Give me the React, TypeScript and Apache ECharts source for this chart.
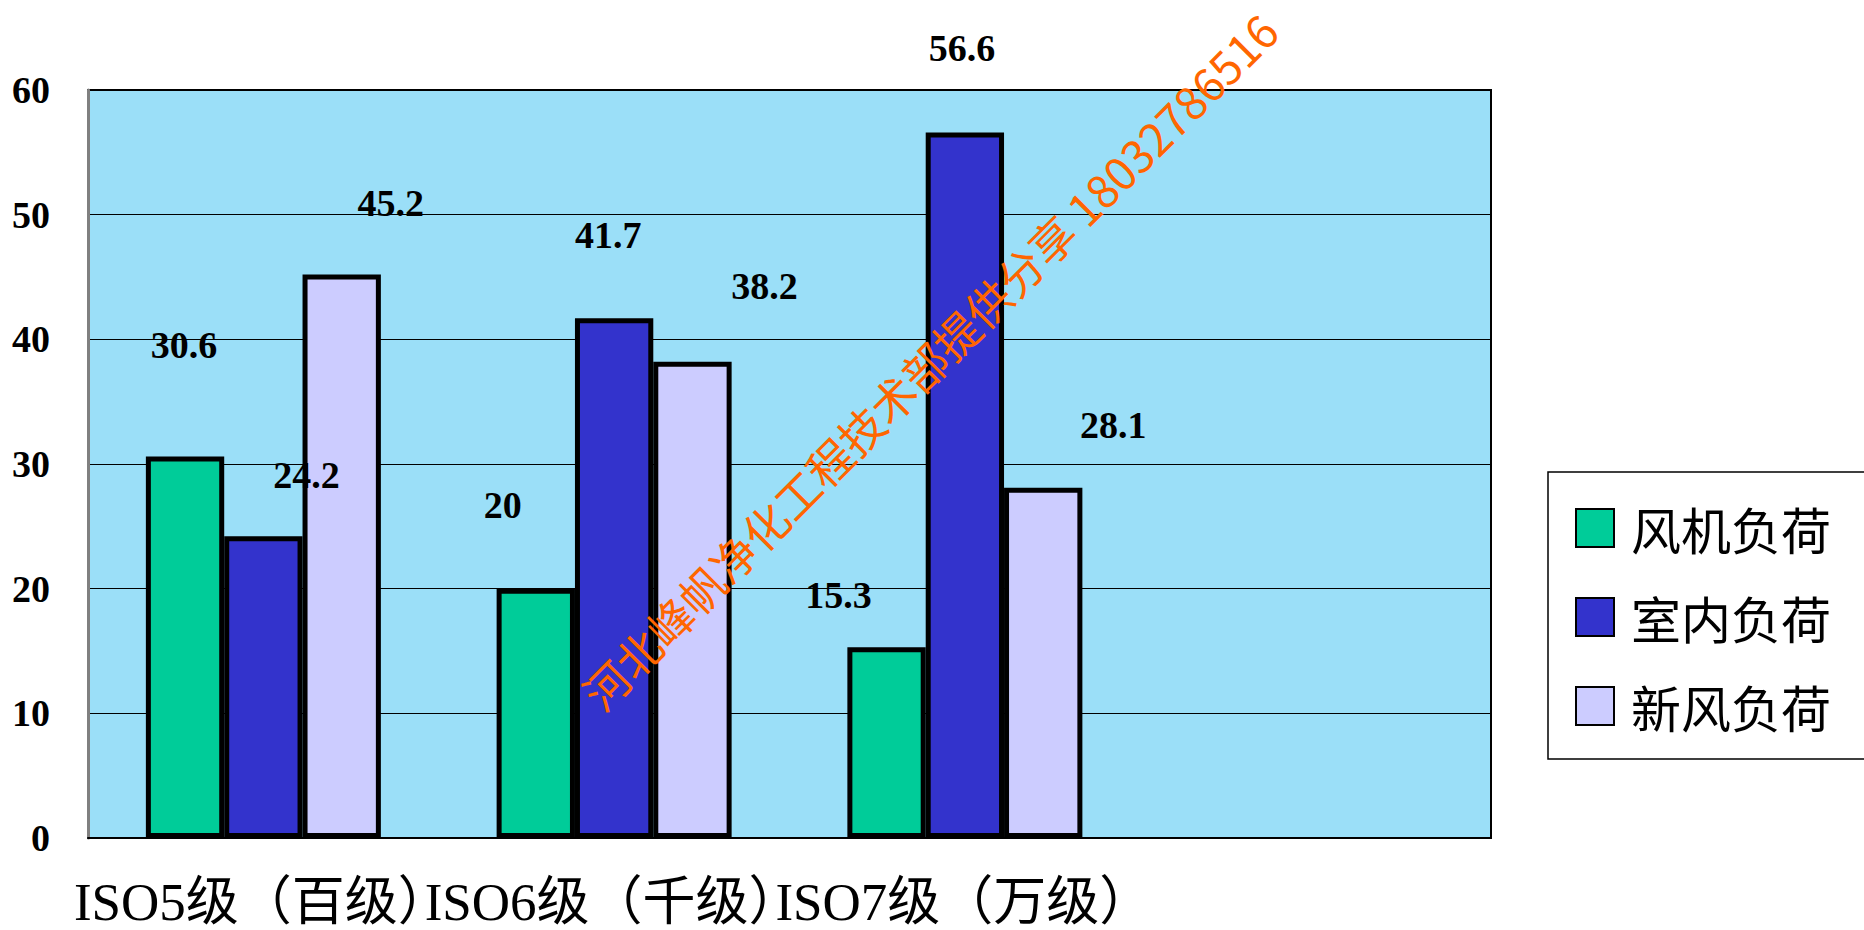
import React, { useEffect, useRef } from "react";
import * as echarts from "echarts";

const categories = ["ISO5级（百级）", "ISO6级（千级）", "ISO7级（万级）", ""];
const seriesNames = ["风机负荷", "室内负荷", "新风负荷"];
const fanLoad = [30.6, 20, 15.3, null];
const roomLoad = [24.2, 41.7, 56.6, null];
const freshLoad = [45.2, 38.2, 28.1, null];
const yTicks = { min: 0, max: 60, interval: 10 };
const watermarkText = "河北峰帆净化工程技术部提供分享 18032786516";

// label offsets (styling, relative to bar tops)
const labelOffsets = [
  [[-1, -112], [-33, -84], [-48, -52]],
  [[43, -61], [-6, -83], [-3, -84]],
  [[49, -72], [72, -76], [70, -63]],
];

const colors = ["#00CC99", "#3333CC", "#CCCCFF"];
const serifFont = '"Liberation Serif", "Times New Roman", "Noto Sans CJK SC", serif';
const cjkFont = '"Noto Sans CJK SC", sans-serif';

export default function App() {
  const ref = useRef<HTMLDivElement>(null);
  useEffect(() => {
    if (!ref.current) return;
    const chart = echarts.init(ref.current, null, { renderer: "svg" });
    const values = [fanLoad, roomLoad, freshLoad];
    const series = values.map((arr, si) => ({
      name: seriesNames[si],
      type: "bar",
      barGap: "0%",
      barCategoryGap: "33%",
      itemStyle: { color: colors[si], borderColor: "#000", borderWidth: 5 },
      data: arr.map((v, ci) =>
        v === null
          ? null
          : {
              value: v,
              label: {
                show: true,
                position: "top",
                distance: 0,
                verticalAlign: "middle",
                align: "center",
                offset: labelOffsets[si][ci],
                formatter: "{c}",
                color: "#000",
                fontSize: 38,
                fontWeight: "bold",
                fontFamily: serifFont,
              },
            }
      ),
    }));
    chart.setOption({
      animation: false,
      backgroundColor: "#fff",
      grid: {
        left: 88,
        right: 373,
        top: 90,
        bottom: 92,
        show: true,
        backgroundColor: "#9BDFF8",
        borderColor: "#000",
        borderWidth: 2,
      },
      legend: {
        orient: "vertical",
        left: 1548,
        top: 472,
        padding: [31, 80, 28, 27],
        itemGap: 39,
        itemWidth: 38,
        itemHeight: 38,
        borderColor: "#000",
        borderWidth: 1.5,
        icon: "rect",
        data: seriesNames,
        textStyle: {
          color: "#000",
          fontSize: 50,
          fontFamily: cjkFont,
          padding: [0, 0, 0, 12],
        },
      },
      xAxis: {
        type: "category",
        data: categories,
        axisLine: { show: true, lineStyle: { color: "#000", width: 2 } },
        axisTick: { show: false },
        axisLabel: {
          interval: 0,
          margin: 37,
          color: "#000",
          fontSize: 53,
          fontFamily: serifFont,
          padding: [0, 2, 0, 0],
        },
      },
      yAxis: {
        type: "value",
        min: yTicks.min,
        max: yTicks.max,
        interval: yTicks.interval,
        axisLine: { show: true, lineStyle: { color: "#808080", width: 3 } },
        axisTick: { show: false },
        splitLine: { show: true, lineStyle: { color: "#000", width: 1 } },
        axisLabel: {
          margin: 38,
          color: "#000",
          fontSize: 38,
          fontWeight: "bold",
          fontFamily: serifFont,
          padding: [0, 0, 20, 0],
        },
      },
      series,
      graphic: [
        {
          type: "text",
          x: 929,
          y: 361,
          rotation: Math.PI / 4,
          z: 100,
          style: {
            text: watermarkText,
            fill: "#FF6600",
            fontSize: 45,
            fontFamily: cjkFont,
            align: "center",
            verticalAlign: "middle",
          },
        },
      ],
    });
    return () => chart.dispose();
  }, []);
  return (
    <div
      ref={ref}
      style={{ position: "fixed", left: 0, top: 0, width: 1864, height: 930 }}
    />
  );
}
